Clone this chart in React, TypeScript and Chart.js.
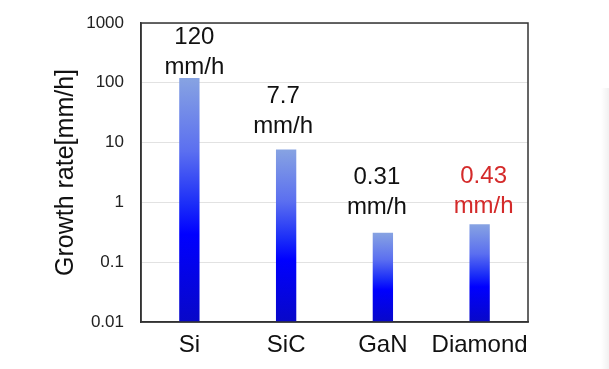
import React, { useEffect, useRef } from "react";
import { Chart, registerables } from "chart.js";

Chart.register(...registerables);

const categories = ["Si", "SiC", "GaN", "Diamond"];
const growthRates = [120, 7.7, 0.31, 0.43];
const valueLabels = ["120", "7.7", "0.31", "0.43"];
const unitLabel = "mm/h";
const tickValues = [0.01, 0.1, 1, 10, 100, 1000];
const tickLabels = ["0.01", "0.1", "1", "10", "100", "1000"];
const yTitle = "Growth rate[mm/h]";

const FONT = "'Liberation Sans', Arial, sans-serif";

const labelStyle = {
  colors: ["#111111", "#111111", "#111111", "#d42a2a"],
  lift: [4, 16, 19, 11],
  shiftX: [5, -3, -6, 4],
};

const barLabelsPlugin = {
  id: "barLabels",
  afterDatasetsDraw(chart: any) {
    const meta = chart.getDatasetMeta(0);
    const ctx = chart.ctx;
    ctx.save();
    ctx.font = `24px ${FONT}`;
    ctx.textAlign = "center";
    ctx.textBaseline = "alphabetic";
    meta.data.forEach((bar: any, i: number) => {
      const x = bar.x + labelStyle.shiftX[i];
      const base = bar.y - labelStyle.lift[i];
      ctx.fillStyle = labelStyle.colors[i];
      ctx.fillText(unitLabel, x, base);
      ctx.fillText(valueLabels[i], x, base - 30);
    });
    ctx.restore();
  },
};

const framePlugin = {
  id: "frame",
  afterDraw(chart: any) {
    const { left, right, top, bottom } = chart.chartArea;
    const ctx = chart.ctx;
    ctx.save();
    ctx.strokeStyle = "#333333";
    ctx.lineWidth = 1.5;
    ctx.strokeRect(left, top, right - left, bottom - top);
    ctx.restore();
  },
};

function barGradient(context: any) {
  const chart = context.chart;
  const area = chart.chartArea;
  const yScale = chart.scales && chart.scales.y;
  if (!area || !yScale || context.type !== "data") return "#0000ff";
  const top = yScale.getPixelForValue(context.raw);
  const bottom = area.bottom;
  if (!isFinite(top) || bottom - top < 1) return "#0000ff";
  const g = chart.ctx.createLinearGradient(0, top, 0, bottom);
  g.addColorStop(0, "#87a3e2");
  g.addColorStop(0.3, "#5b6ff0");
  g.addColorStop(0.52, "#1a2cf8");
  g.addColorStop(0.64, "#0000ff");
  g.addColorStop(1, "#0808c8");
  return g;
}

export default function App() {
  const canvasRef = useRef<HTMLCanvasElement | null>(null);

  useEffect(() => {
    if (!canvasRef.current) return;
    const chart = new Chart(canvasRef.current, {
      type: "bar",
      data: {
        labels: categories,
        datasets: [
          {
            data: growthRates,
            backgroundColor: barGradient as any,
            borderWidth: 0,
            categoryPercentage: 1,
            barPercentage: 0.21,
          },
        ],
      },
      options: {
        animation: false,
        responsive: false,
        maintainAspectRatio: false,
        devicePixelRatio: 1,
        layout: { padding: { top: 23, right: 81, left: 0, bottom: 0 } },
        plugins: {
          legend: { display: false },
          tooltip: { enabled: false },
        },
        scales: {
          x: {
            grid: { display: false, drawTicks: false },
            border: { display: true, color: "#333333", width: 1.5 },
            ticks: {
              color: "#111111",
              font: { family: FONT, size: 24 },
              padding: 9,
              maxRotation: 0,
              autoSkip: false,
            },
            afterFit(scale: any) {
              scale.height = 47;
              scale.paddingLeft = 0;
              scale.paddingRight = 0;
            },
          },
          y: {
            type: "logarithmic",
            min: 0.01,
            max: 1000,
            grid: { color: "#e2e2e2", lineWidth: 1, drawTicks: false },
            border: { display: true, color: "#333333", width: 1.5 },
            afterBuildTicks(scale: any) {
              scale.ticks = tickValues.map((v) => ({ value: v }));
            },
            ticks: {
              color: "#222222",
              font: { family: FONT, size: 17 },
              padding: 17,
              autoSkip: false,
              callback: (value: any) => {
                const idx = tickValues.findIndex((v) => Math.abs(v - Number(value)) < 1e-9);
                return idx >= 0 ? tickLabels[idx] : "";
              },
            },
            title: {
              display: true,
              text: yTitle,
              color: "#111111",
              font: { family: FONT, size: 25 },
              padding: { top: 51, bottom: 0 },
            },
            afterFit(scale: any) {
              scale.width = 141;
              scale.paddingTop = 0;
              scale.paddingBottom = 0;
            },
          },
        },
      },
      plugins: [barLabelsPlugin, framePlugin],
    });
    return () => chart.destroy();
  }, []);

  return (
    <div style={{ position: "fixed", left: 0, top: 0, width: 609, height: 369, background: "#ffffff" }}>
      <canvas ref={canvasRef} width={609} height={369} style={{ display: "block" }} />
      <div
        style={{
          position: "absolute",
          left: 601,
          top: 88,
          width: 8,
          height: 281,
          background: "linear-gradient(to right, #ffffff, #f1f1f1)",
        }}
      />
    </div>
  );
}
